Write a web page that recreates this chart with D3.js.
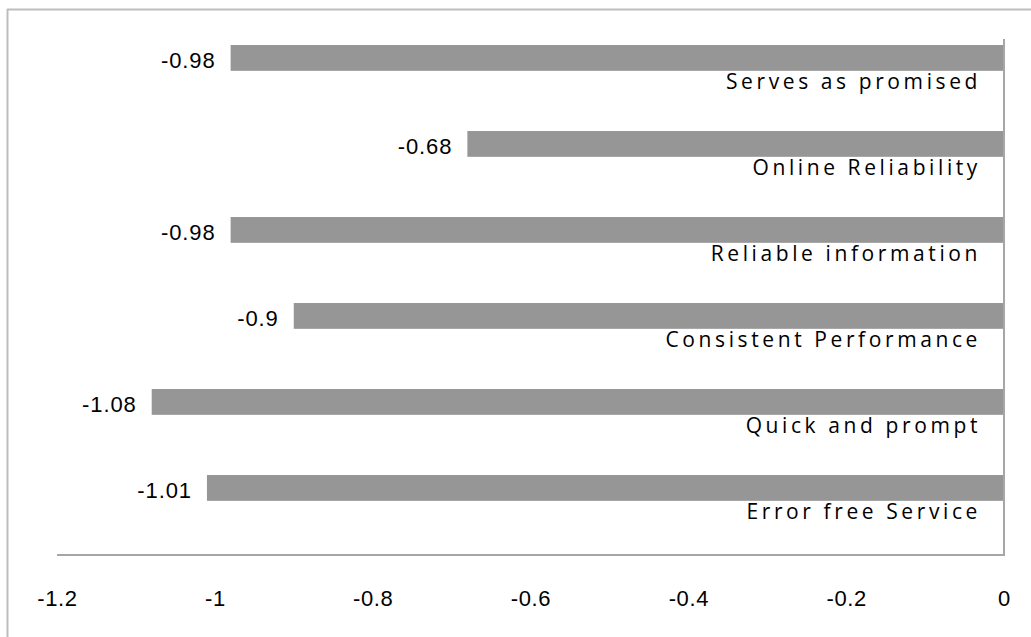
<!DOCTYPE html>
<html>
<head>
<meta charset="utf-8">
<script src="https://cdn.jsdelivr.net/npm/d3@7"></script>
<style>
  html, body { margin: 0; padding: 0; background: #fff; }
  svg { display: block; }
</style>
</head>
<body>
<svg id="chart" width="1031" height="637"></svg>
<script>
// Reliability dimensions and their scores
const categories = [
  "Serves as promised",
  "Online Reliability",
  "Reliable information",
  "Consistent Performance",
  "Quick and prompt",
  "Error free Service"
];
const scores = [-0.98, -0.68, -0.98, -0.9, -1.08, -1.01];
const tickValues = [-1.2, -1, -0.8, -0.6, -0.4, -0.2, 0];

const svg = d3.select("#chart");
const W = 1031, H = 637;
const plot = { left: 57, right: 1004, top: 39, bottom: 555 };

// chart frame (top and left edges)
svg.append("line").attr("x1", 7).attr("x2", W).attr("y1", 9.5).attr("y2", 9.5)
  .attr("stroke", "#bdbdbd").attr("stroke-width", 2);
svg.append("line").attr("x1", 7.5).attr("x2", 7.5).attr("y1", 9).attr("y2", H)
  .attr("stroke", "#bdbdbd").attr("stroke-width", 2);

const x = d3.scaleLinear().domain([-1.2, 0]).range([plot.left, plot.right]);
const y = d3.scaleBand().domain(categories).range([plot.top, plot.bottom]).paddingInner(0).paddingOuter(0);
const bw = y.bandwidth();

const data = categories.map((c, i) => ({ c, v: scores[i] }));

// bars
svg.append("g").selectAll("rect").data(data).join("rect")
  .attr("x", d => x(d.v))
  .attr("width", d => x(0) - x(d.v))
  .attr("y", d => y(d.c) + bw * 0.07)
  .attr("height", bw * 0.30)
  .attr("fill", "#969696");

// value labels left of each bar
svg.append("g").selectAll("text").data(data).join("text")
  .attr("x", d => x(d.v) - 15)
  .attr("y", d => y(d.c) + bw * 0.07 + 23)
  .attr("text-anchor", "end")
  .attr("font-family", "Liberation Sans, Arial, sans-serif")
  .attr("font-size", 22)
  .attr("letter-spacing", 0.9)
  .attr("fill", "#000")
  .text(d => String(d.v));

// category labels, right aligned under each bar
svg.append("g").selectAll("text").data(data).join("text")
  .attr("x", 981)
  .attr("y", d => y(d.c) + bw * 0.37 + 18)
  .attr("text-anchor", "end")
  .attr("font-family", "Open Sans, sans-serif")
  .attr("font-size", 21)
  .attr("letter-spacing", 3.6)
  .attr("fill", "#000")
  .text(d => d.c);

// axis lines
svg.append("line").attr("x1", plot.left).attr("x2", plot.right + 1)
  .attr("y1", plot.bottom).attr("y2", plot.bottom)
  .attr("stroke", "#a6a6a6").attr("stroke-width", 2);
svg.append("line").attr("x1", x(0)).attr("x2", x(0))
  .attr("y1", plot.top).attr("y2", plot.bottom)
  .attr("stroke", "#a6a6a6").attr("stroke-width", 2);

// tick labels
const axis = d3.axisBottom(x).tickValues(tickValues).tickSize(0).tickPadding(0)
  .tickFormat(d => String(d));
const gx = svg.append("g").attr("transform", `translate(0, ${plot.bottom + 35})`).call(axis);
gx.select(".domain").remove();
gx.selectAll("text")
  .attr("font-family", "Liberation Sans, Arial, sans-serif")
  .attr("font-size", 22)
  .attr("letter-spacing", 0.6)
  .attr("fill", "#000")
  .attr("dy", "0.71em");
</script>
</body>
</html>
